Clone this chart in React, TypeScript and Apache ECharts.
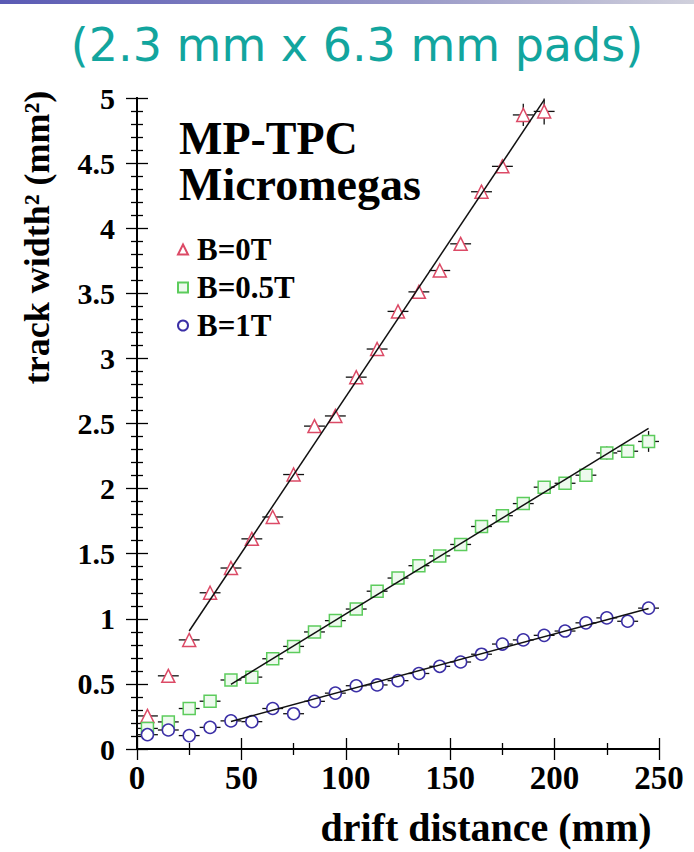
import React, { useEffect, useRef } from "react";
import * as echarts from "echarts";

const xRed = [5, 15, 25, 35, 45, 55, 65, 75, 85, 95, 105, 115, 125, 135, 145, 155, 165, 175, 185, 195];
const yRed = [0.254, 0.562, 0.838, 1.2, 1.39, 1.614, 1.782, 2.108, 2.48, 2.558, 2.856, 3.072, 3.361, 3.511, 3.675, 3.88, 4.28, 4.475, 4.87, 4.897];
const eRed = [0.01, 0.01, 0.015, 0.02, 0.02, 0.02, 0.025, 0.025, 0.03, 0.03, 0.03, 0.035, 0.035, 0.04, 0.04, 0.045, 0.05, 0.05, 0.085, 0.1];

const xGB = [5, 15, 25, 35, 45, 55, 65, 75, 85, 95, 105, 115, 125, 135, 145, 155, 165, 175, 185, 195, 205, 215, 225, 235, 245];
const yGreen = [0.158, 0.208, 0.311, 0.367, 0.53, 0.552, 0.693, 0.788, 0.899, 0.986, 1.075, 1.212, 1.313, 1.408, 1.483, 1.571, 1.709, 1.792, 1.885, 2.011, 2.041, 2.103, 2.274, 2.287, 2.362];
const eGreen = [0.01, 0.01, 0.01, 0.01, 0.015, 0.015, 0.015, 0.015, 0.02, 0.02, 0.02, 0.02, 0.025, 0.03, 0.025, 0.025, 0.03, 0.03, 0.03, 0.035, 0.035, 0.04, 0.05, 0.05, 0.08];
const yBlue = [0.11, 0.146, 0.103, 0.166, 0.216, 0.21, 0.311, 0.271, 0.366, 0.429, 0.486, 0.492, 0.525, 0.58, 0.635, 0.668, 0.728, 0.806, 0.838, 0.873, 0.906, 0.969, 1.007, 0.981, 1.082];
const eBlue = [0.01, 0.01, 0.01, 0.01, 0.01, 0.01, 0.01, 0.01, 0.01, 0.01, 0.015, 0.015, 0.015, 0.015, 0.015, 0.015, 0.015, 0.02, 0.02, 0.02, 0.02, 0.02, 0.02, 0.02, 0.025];

const binHalfWidth = 5;

const fitRed = [[25, 0.906], [195, 4.985]];
const fitGreen = [[45, 0.497], [245, 2.462]];
const fitBlue = [[45, 0.211], [245, 1.079]];

const seriesNames = ["B=0T", "B=0.5T", "B=1T"];
const xTicks = [0, 50, 100, 150, 200, 250];
const yTicks = [0, 0.5, 1, 1.5, 2, 2.5, 3, 3.5, 4, 4.5, 5];

const titleText = "(2.3 mm x 6.3 mm pads)";
const boxLines = ["MP-TPC", "Micromegas"];
const xTitle = "drift distance (mm)";
const yTitle = "track width² (mm²)";

const RED = "#dc4a66";
const GREEN = "#5ccc5c";
const BLUE = "#3b2fa6";
const SERIF = "'Liberation Serif', 'Times New Roman', serif";

function errData(xs: number[], ys: number[], es: number[]) {
  return xs.map((x, i) => [x, ys[i], binHalfWidth, es[i]]);
}

function errSeries(data: number[][]) {
  return {
    type: "custom",
    z: 1,
    silent: true,
    data,
    renderItem: (params: any, api: any) => {
      const x = api.value(0);
      const y = api.value(1);
      const dx = api.value(2);
      const dy = api.value(3);
      const l = api.coord([x - dx, y]);
      const r = api.coord([x + dx, y]);
      const t = api.coord([x, y + dy]);
      const b = api.coord([x, y - dy]);
      const st = { stroke: "#111", lineWidth: 1.3 };
      return {
        type: "group",
        children: [
          { type: "line", shape: { x1: l[0], y1: l[1], x2: r[0], y2: r[1] }, style: st },
          { type: "line", shape: { x1: t[0], y1: t[1], x2: b[0], y2: b[1] }, style: st },
        ],
      };
    },
  };
}

export default function App() {
  const ref = useRef<HTMLDivElement>(null);
  useEffect(() => {
    if (!ref.current) return;
    const chart = echarts.init(ref.current, null, { renderer: "svg" });
    const axisCommon = {
      axisLine: { show: true, lineStyle: { color: "#000", width: 2 } },
      splitLine: { show: false },
    };
    const option: any = {
      animation: false,
      backgroundColor: "#fff",
      grid: { left: 137, top: 98, right: 35, bottom: 90, containLabel: false },
      xAxis: [
        {
          type: "value",
          min: xTicks[0],
          max: xTicks[xTicks.length - 1],
          interval: 50,
          position: "bottom",
          name: xTitle,
          nameLocation: "middle",
          nameGap: 58,
          nameTextStyle: { fontFamily: SERIF, fontWeight: "bold", fontSize: 40, color: "#000", padding: [0, 0, 0, 176] },
          ...axisCommon,
          axisTick: { inside: true, length: 11, lineStyle: { color: "#000", width: 1.3 } },
          minorTick: { show: true, splitNumber: 2, length: 6, lineStyle: { color: "#000", width: 1.3 } },
          axisLabel: { fontFamily: SERIF, fontWeight: "bold", fontSize: 33, color: "#000", margin: 12 },
        },
        {
          type: "value",
          min: xTicks[0],
          max: xTicks[xTicks.length - 1],
          interval: 50,
          position: "top",
          ...axisCommon,
          axisTick: { inside: true, length: 11, lineStyle: { color: "#000", width: 1.3 } },
          minorTick: { show: true, splitNumber: 2, length: 6, lineStyle: { color: "#000", width: 1.3 } },
          axisLabel: { show: false },
        },
      ],
      yAxis: [
        {
          type: "value",
          min: yTicks[0],
          max: yTicks[yTicks.length - 1],
          interval: 0.5,
          position: "left",
          name: yTitle,
          nameLocation: "middle",
          nameRotate: 90,
          nameGap: 82,
          nameTextStyle: { fontFamily: SERIF, fontWeight: "bold", fontSize: 36, color: "#000", padding: [0, 0, 0, 372] },
          ...axisCommon,
          axisTick: { inside: true, length: 11, lineStyle: { color: "#000", width: 1.3 } },
          minorTick: { show: true, splitNumber: 5, length: 6, lineStyle: { color: "#000", width: 1.3 } },
          axisLabel: { fontFamily: SERIF, fontWeight: "bold", fontSize: 30, color: "#000", margin: 22 },
        },
        {
          type: "value",
          min: yTicks[0],
          max: yTicks[yTicks.length - 1],
          interval: 0.5,
          position: "right",
          ...axisCommon,
          axisTick: { inside: true, length: 11, lineStyle: { color: "#000", width: 1.3 } },
          minorTick: { show: true, splitNumber: 5, length: 6, lineStyle: { color: "#000", width: 1.3 } },
          axisLabel: { show: false },
        },
      ],
      legend: {
        show: true,
        orient: "vertical",
        left: 172,
        top: 229,
        itemGap: 7,
        itemWidth: 10,
        itemHeight: 10,
        textStyle: { fontFamily: SERIF, fontWeight: "bold", fontSize: 31, color: "#000", padding: [0, 0, 0, 4] },
        data: [
          { name: seriesNames[0], icon: "triangle" },
          { name: seriesNames[1], icon: "rect" },
          { name: seriesNames[2], icon: "circle" },
        ],
      },
      graphic: [
        {
          type: "rect",
          shape: { x: 0, y: 0, width: 694, height: 4 },
          style: {
            fill: new echarts.graphic.LinearGradient(0, 0, 1, 0, [
              { offset: 0, color: "#5a5ab4" },
              { offset: 0.6, color: "#9a9ac8" },
              { offset: 1, color: "#d0d0dc" },
            ]),
          },
        },
        {
          type: "text",
          x: 357,
          y: 45,
          style: {
            text: titleText,
            fontFamily: "'DejaVu Sans', sans-serif",
            fontSize: 46,
            fill: "#12a59e",
            align: "center",
            verticalAlign: "middle",
          },
        },
        {
          type: "text",
          x: 179,
          y: 138,
          style: { text: boxLines[0], fontFamily: SERIF, fontWeight: "bold", fontSize: 46, lineHeight: 42, fill: "#000", align: "left", verticalAlign: "middle" },
        },
        {
          type: "text",
          x: 179,
          y: 184,
          style: { text: boxLines[1], fontFamily: SERIF, fontWeight: "bold", fontSize: 46, lineHeight: 42, fill: "#000", align: "left", verticalAlign: "middle" },
        },
      ],
      series: [
        errSeries(errData(xRed, yRed, eRed)),
        errSeries(errData(xGB, yGreen, eGreen)),
        errSeries(errData(xGB, yBlue, eBlue)),
        {
          name: seriesNames[0],
          type: "scatter",
          z: 2,
          symbol: "triangle",
          symbolSize: 13,
          itemStyle: { color: "#fff", borderColor: RED, borderWidth: 1.5, opacity: 1 },
          data: xRed.map((x, i) => [x, yRed[i]]),
        },
        {
          name: seriesNames[1],
          type: "scatter",
          z: 2,
          symbol: "rect",
          symbolSize: 12,
          itemStyle: { color: "#eefaee", borderColor: GREEN, borderWidth: 1.5, opacity: 1 },
          data: xGB.map((x, i) => [x, yGreen[i]]),
        },
        {
          name: seriesNames[2],
          type: "scatter",
          z: 2,
          symbol: "circle",
          symbolSize: 12,
          itemStyle: { color: "#fff", borderColor: BLUE, borderWidth: 1.5, opacity: 1 },
          data: xGB.map((x, i) => [x, yBlue[i]]),
        },
        ...[fitRed, fitGreen, fitBlue].map((d) => ({
          type: "line",
          z: 3,
          silent: true,
          symbol: "none",
          lineStyle: { color: "#111", width: 1.5 },
          data: d,
        })),
      ],
    };
    chart.setOption(option);
    return () => chart.dispose();
  }, []);
  return (
    <div
      ref={ref}
      style={{ position: "fixed", left: 0, top: 0, width: 694, height: 852, background: "#fff" }}
    />
  );
}
